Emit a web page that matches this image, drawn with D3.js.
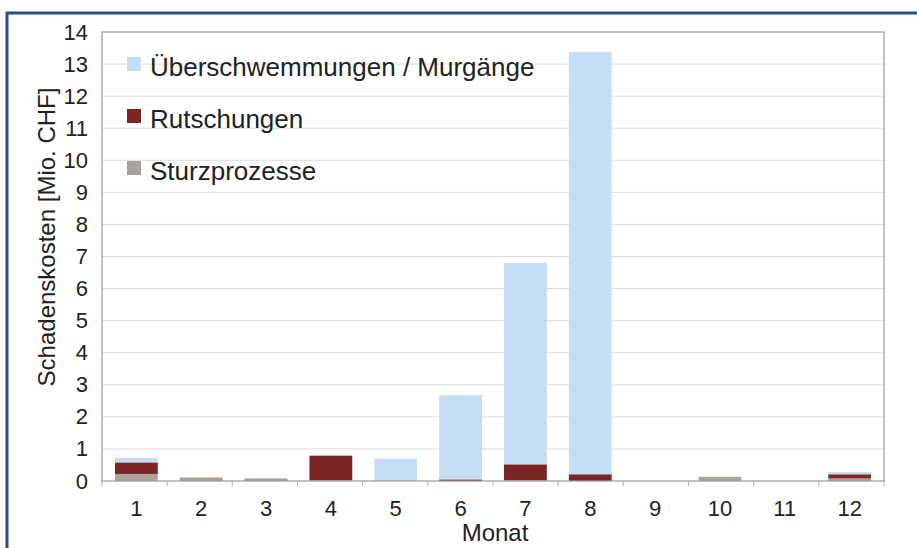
<!DOCTYPE html>
<html><head><meta charset="utf-8">
<script src="https://cdn.jsdelivr.net/npm/d3@7"></script>
<style>body{margin:0;background:#fff}svg{display:block;font-family:"Liberation Sans",Arial,sans-serif}</style>
</head><body><svg id="c" width="917" height="548"></svg>
<script>
const months = ["1","2","3","4","5","6","7","8","9","10","11","12"];
const sturz = [0.22,0.11,0.08,0.03,0.02,0.0,0.03,0.0,0.0,0.13,0.0,0.08];
const rutsch = [0.36,0.0,0.0,0.76,0.0,0.05,0.49,0.21,0.0,0.0,0.0,0.13];
const ueber = [0.14,0.0,0.0,0.0,0.67,2.63,6.28,13.17,0.0,0.0,0.0,0.07];
const yTicks = [0,1,2,3,4,5,6,7,8,9,10,11,12,13,14];
const seriesNames = ["Überschwemmungen / Murgänge","Rutschungen","Sturzprozesse"];
const seriesColors = ["#c6ddf6","#7b2527","#aaa09c"];

const svg = d3.select("#c");
const m = {l:102, r:884, t:32, b:481};
const x = d3.scaleBand().domain(months).range([m.l,m.r]).paddingInner(0.34).paddingOuter(0.2);
const y = d3.scaleLinear().domain([0,14]).range([m.b,m.t]);

// outer frame
svg.append("path").attr("d",`M7,548 V13 H917`).attr("fill","none").attr("stroke","#2d4c8c").attr("stroke-width",3);

// grid
svg.append("g").selectAll("line").data(yTicks.filter(d=>d>0&&d<14)).join("line")
  .attr("x1",m.l).attr("x2",m.r).attr("y1",d=>y(d)).attr("y2",d=>y(d))
  .attr("stroke","#dcdcdc").attr("stroke-width",1);

// stacked bars
const rows = months.map((mo,i)=>({month:mo, s:sturz[i], r:rutsch[i], u:ueber[i]}));
const stack = d3.stack().keys(["s","r","u"])(rows);
const colorByKey = {s:seriesColors[2], r:seriesColors[1], u:seriesColors[0]};
svg.append("g").selectAll("g").data(stack).join("g").attr("fill",d=>colorByKey[d.key])
  .selectAll("rect").data(d=>d).join("rect")
  .attr("x",d=>x(d.data.month)).attr("width",x.bandwidth())
  .attr("y",d=>y(d[1])).attr("height",d=>Math.max(0,y(d[0])-y(d[1])));

// plot frame
svg.append("rect").attr("x",m.l).attr("y",m.t).attr("width",m.r-m.l).attr("height",m.b-m.t)
  .attr("fill","none").attr("stroke","#9a9a9a").attr("stroke-width",1.2);

// y axis
const yAxis = svg.append("g").attr("transform",`translate(${m.l},0)`)
  .call(d3.axisLeft(y).tickValues(yTicks).tickSize(0).tickPadding(14));
yAxis.select(".domain").remove();
yAxis.selectAll("text").attr("font-size",22).attr("fill","#222").attr("font-family","Liberation Sans, Arial, sans-serif");

// x axis
const xAxis = svg.append("g").attr("transform",`translate(0,${m.b})`)
  .call(d3.axisBottom(x).tickSize(0).tickPadding(19));
xAxis.select(".domain").remove();
xAxis.selectAll("text").attr("font-size",22).attr("fill","#222").attr("font-family","Liberation Sans, Arial, sans-serif");
// category separator ticks
svg.append("g").selectAll("line").data(d3.range(months.length+1)).join("line")
  .attr("x1",i=>m.l+i*(m.r-m.l)/months.length).attr("x2",i=>m.l+i*(m.r-m.l)/months.length)
  .attr("y1",m.b).attr("y2",m.b+5).attr("stroke","#b0b0b0");

// titles
svg.append("text").attr("transform",`translate(55,237) rotate(-90)`)
  .attr("text-anchor","middle").attr("font-size",24).attr("fill","#222").text("Schadenskosten [Mio. CHF]");
svg.append("text").attr("x",495).attr("y",541).attr("text-anchor","middle")
  .attr("font-size",24).attr("fill","#222").text("Monat");

// legend
const lg = svg.append("g");
seriesNames.forEach((n,i)=>{
  const yy = 57 + i*52;
  lg.append("rect").attr("x",127).attr("y",yy).attr("width",14).attr("height",14).attr("fill",seriesColors[i]);
  lg.append("text").attr("x",150).attr("y",yy+19).attr("font-size",26).attr("fill","#222").text(n);
});
</script></body></html>
